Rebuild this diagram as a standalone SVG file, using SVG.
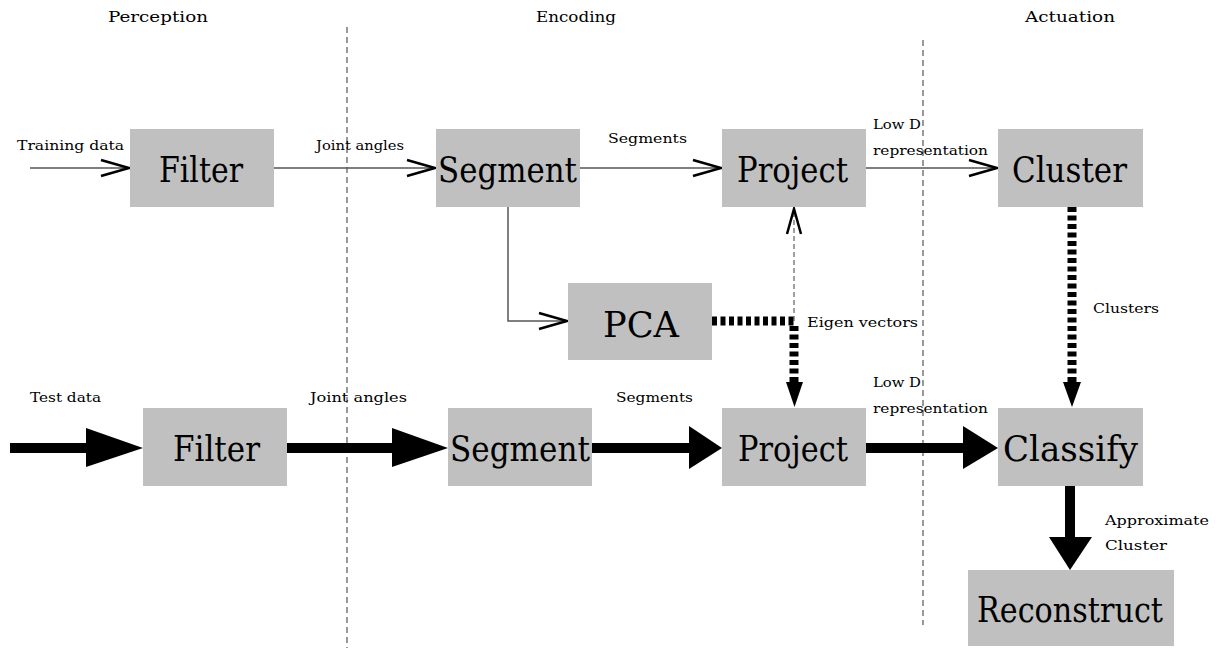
<svg xmlns="http://www.w3.org/2000/svg" width="1222" height="649" viewBox="0 0 1222 649">
<style>
.box{fill:#c0c0c0}
.lbl{font-family:"DejaVu Serif",serif;font-size:36px;fill:#000;font-weight:normal}
.sm{font-family:"DejaVu Serif",serif;font-size:13px;fill:#000}
.hdr{font-family:"DejaVu Serif",serif;font-size:14px;fill:#000}
.sep{stroke:#555;stroke-width:1.2;stroke-dasharray:6 4;fill:none}
.thin{stroke:#555;stroke-width:1.5;fill:none}
.chev{stroke:#000;stroke-width:2.5;fill:none}
.thick{stroke:#000;stroke-width:10;fill:none}
.dash{stroke:#000;stroke-width:9;stroke-dasharray:5 3.5;fill:none}
.gdash{stroke:#808080;stroke-width:1.5;stroke-dasharray:5 3;fill:none}
</style>
<rect width="1222" height="649" fill="#fff"/>
<g id="headers">
<text class="hdr" x="108" y="22" textLength="100" lengthAdjust="spacingAndGlyphs">Perception</text>
<text class="hdr" x="536" y="22" textLength="80" lengthAdjust="spacingAndGlyphs">Encoding</text>
<text class="hdr" x="1025" y="22" textLength="90" lengthAdjust="spacingAndGlyphs">Actuation</text>
</g>
<g id="separators">
<line class="sep" x1="347" y1="27" x2="347" y2="648"/>
<line class="sep" x1="923" y1="40" x2="923" y2="625"/>
</g>
<g id="connectors">
<line class="thin" x1="30" y1="168" x2="129" y2="168"/>
<polyline class="chev" points="101,160 129,168 101,176"/>
<line class="thin" x1="274" y1="168" x2="435" y2="168"/>
<polyline class="chev" points="407,160 435,168 407,176"/>
<line class="thin" x1="580" y1="168" x2="721" y2="168"/>
<polyline class="chev" points="693,160 721,168 693,176"/>
<line class="thin" x1="866" y1="168" x2="997" y2="168"/>
<polyline class="chev" points="969,160 997,168 969,176"/>
<polyline class="thin" points="508,207 508,321 567,321"/>
<polyline class="chev" points="539,313 567,321 539,329"/>
<line class="gdash" x1="794" y1="321" x2="794" y2="209"/>
<polyline class="chev" points="787,234 794,209 801,234"/>
<line class="dash" x1="712" y1="321" x2="796" y2="321"/>
<line class="dash" x1="794" y1="326" x2="794" y2="383"/>
<polygon points="786,382 803,382 794.5,407" fill="#000"/>
<line class="dash" x1="1072" y1="207" x2="1072" y2="383"/>
<polygon points="1063,382 1081,382 1072,407" fill="#000"/>
<line class="thick" x1="10" y1="448" x2="88" y2="448"/>
<polygon points="86,428 143,448 86,467" fill="#000"/>
<line class="thick" x1="287" y1="448" x2="394" y2="448"/>
<polygon points="392,428 448,448 392,467" fill="#000"/>
<line class="thick" x1="592" y1="448" x2="692" y2="448"/>
<polygon points="689,426 722,448 689,469" fill="#000"/>
<line class="thick" x1="866" y1="448" x2="966" y2="448"/>
<polygon points="963,426 998,448 963,469" fill="#000"/>
<line class="thick" x1="1070" y1="486" x2="1070" y2="540"/>
<polygon points="1049,537 1092,537 1070,570" fill="#000"/>
</g>
<g id="edge-labels">
<text class="sm" x="17" y="150" textLength="107" lengthAdjust="spacingAndGlyphs">Training data</text>
<text class="sm" x="316" y="150" textLength="88" lengthAdjust="spacingAndGlyphs">Joint angles</text>
<text class="sm" x="608" y="143" textLength="79" lengthAdjust="spacingAndGlyphs">Segments</text>
<text class="sm" x="873" y="129" textLength="48" lengthAdjust="spacingAndGlyphs">Low D</text>
<text class="sm" x="873" y="155" textLength="115" lengthAdjust="spacingAndGlyphs">representation</text>
<text class="sm" x="807" y="327" textLength="111" lengthAdjust="spacingAndGlyphs">Eigen vectors</text>
<text class="sm" x="1093" y="313" textLength="66" lengthAdjust="spacingAndGlyphs">Clusters</text>
<text class="sm" x="30" y="402" textLength="71" lengthAdjust="spacingAndGlyphs">Test data</text>
<text class="sm" x="310" y="402" textLength="97" lengthAdjust="spacingAndGlyphs">Joint angles</text>
<text class="sm" x="616" y="402" textLength="77" lengthAdjust="spacingAndGlyphs">Segments</text>
<text class="sm" x="873" y="387" textLength="48" lengthAdjust="spacingAndGlyphs">Low D</text>
<text class="sm" x="873" y="413" textLength="115" lengthAdjust="spacingAndGlyphs">representation</text>
<text class="sm" x="1105" y="525" textLength="104" lengthAdjust="spacingAndGlyphs">Approximate</text>
<text class="sm" x="1105" y="550" textLength="62" lengthAdjust="spacingAndGlyphs">Cluster</text>
</g>
<g id="filter1"><rect class="box" x="130" y="129" width="144" height="78"/><text class="lbl" x="159" y="182" textLength="84" lengthAdjust="spacingAndGlyphs">Filter</text></g>
<g id="segment1"><rect class="box" x="436" y="129" width="144" height="78"/><text class="lbl" x="438" y="182" textLength="139" lengthAdjust="spacingAndGlyphs">Segment</text></g>
<g id="project1"><rect class="box" x="722" y="129" width="144" height="78"/><text class="lbl" x="737" y="182" textLength="111" lengthAdjust="spacingAndGlyphs">Project</text></g>
<g id="cluster"><rect class="box" x="998" y="129" width="145" height="78"/><text class="lbl" x="1012" y="182" textLength="115" lengthAdjust="spacingAndGlyphs">Cluster</text></g>
<g id="pca"><rect class="box" x="568" y="283" width="144" height="77"/><text class="lbl" x="603" y="337" textLength="76" lengthAdjust="spacingAndGlyphs">PCA</text></g>
<g id="filter2"><rect class="box" x="143" y="408" width="144" height="78"/><text class="lbl" x="173" y="461" textLength="87" lengthAdjust="spacingAndGlyphs">Filter</text></g>
<g id="segment2"><rect class="box" x="448" y="408" width="144" height="78"/><text class="lbl" x="450" y="461" textLength="140" lengthAdjust="spacingAndGlyphs">Segment</text></g>
<g id="project2"><rect class="box" x="722" y="408" width="144" height="78"/><text class="lbl" x="738" y="461" textLength="110" lengthAdjust="spacingAndGlyphs">Project</text></g>
<g id="classify"><rect class="box" x="998" y="408" width="145" height="78"/><text class="lbl" x="1003" y="461" textLength="135" lengthAdjust="spacingAndGlyphs">Classify</text></g>
<g id="reconstruct"><rect class="box" x="968" y="570" width="206" height="76"/><text class="lbl" x="977" y="622" textLength="186" lengthAdjust="spacingAndGlyphs">Reconstruct</text></g>
</svg>
